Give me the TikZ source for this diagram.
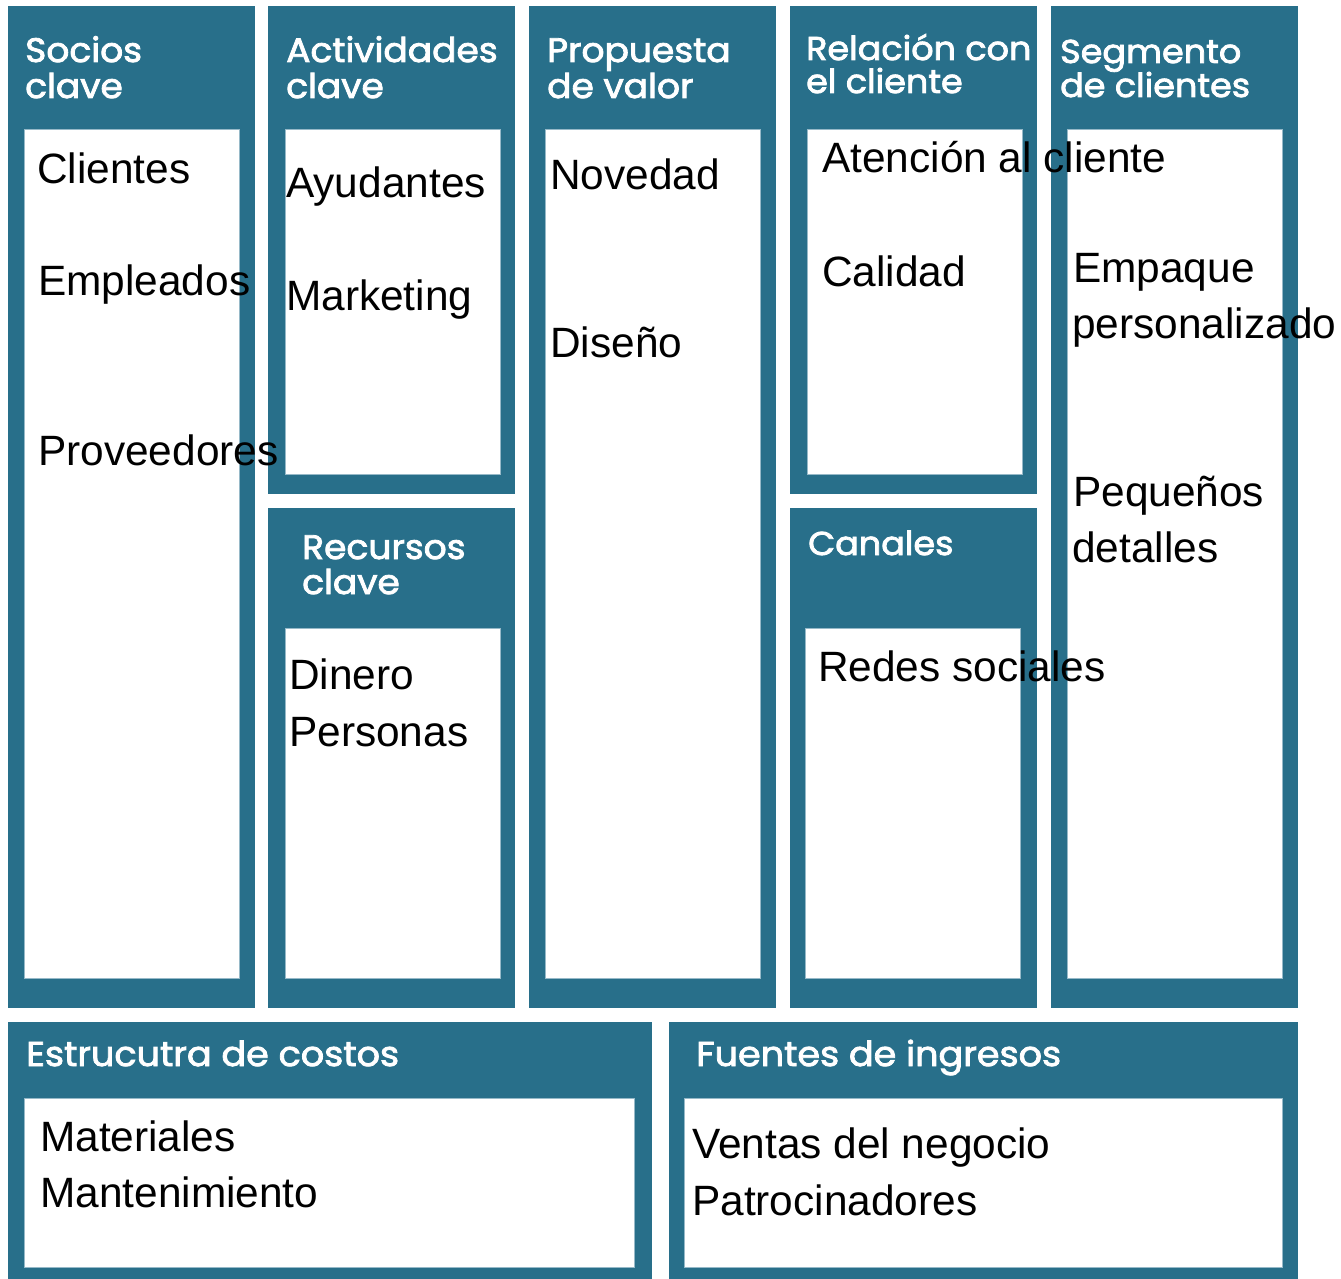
\documentclass[tikz,border=0pt]{standalone}
\usepackage{fontspec}
\setmainfont{Liberation Sans}
\newfontfamily\hfont{Poppins}[FakeBold=2.4,FakeStretch=1.06]
\definecolor{canvasteal}{RGB}{40,111,138}
\definecolor{edgeteal}{RGB}{150,185,200}
\begin{document}
\begin{tikzpicture}[x=1pt,y=-1pt,
  outerbox/.style={fill=canvasteal},
  innerbox/.style={fill=white, draw=edgeteal, line width=0.8pt},
  head/.style={anchor=base west, inner sep=0pt, text=white, font=\hfont\fontsize{34}{34}\selectfont},
  heads/.style={head, font=\hfont\fontsize{33}{33}\selectfont},
  headb/.style={head, font=\hfont\fontsize{34.5}{34.5}\selectfont},
  body/.style={anchor=base west, inner sep=0pt, text=black, font=\fontsize{42.4}{42.4}\selectfont}]
\useasboundingbox (0,0) rectangle (1341,1279);
\fill[white] (0,0) rectangle (1341,1279);
% outer boxes
\fill[outerbox] (8,6) rectangle (255,1008);
\fill[outerbox] (268,6) rectangle (515,494);
\fill[outerbox] (268,508) rectangle (515,1008);
\fill[outerbox] (529,6) rectangle (776,1008);
\fill[outerbox] (790,6) rectangle (1037,494);
\fill[outerbox] (790,508) rectangle (1037,1008);
\fill[outerbox] (1051,6) rectangle (1298,1008);
\fill[outerbox] (8,1022) rectangle (652,1279);
\fill[outerbox] (669,1022) rectangle (1298,1279);
% inner boxes
\draw[innerbox] (24,129) rectangle (239,978);
\draw[innerbox] (285,129) rectangle (500,474);
\draw[innerbox] (285,628) rectangle (500,978);
\draw[innerbox] (545,129) rectangle (760,978);
\draw[innerbox] (807,129) rectangle (1022,474);
\draw[innerbox] (805,628) rectangle (1020,978);
\draw[innerbox] (1067,129) rectangle (1282,978);
\draw[innerbox] (24,1098) rectangle (634,1267);
\draw[innerbox] (684,1098) rectangle (1282,1267);
% headers
\node[head] (h1a) at (25,62) {Socios};
\node[head] (h1b) at (25,98) {clave};
\node[head] (h2a) at (286,62) {Actividades};
\node[head] (h2b) at (286,98) {clave};
\node[head] (h3a) at (302,559) {Recursos};
\node[head] (h3b) at (302,594) {clave};
\node[head] (h4a) at (547,62) {Propuesta};
\node[head] (h4b) at (547,98) {de valor};
\node[heads] (h5a) at (806,60) {Relación con};
\node[heads] (h5b) at (806,93) {el cliente};
\node[heads] (h6) at (808,555) {Canales};
\node[heads] (h7a) at (1060,63) {Segmento};
\node[heads] (h7b) at (1060,97) {de clientes};
\node[headb] (h8) at (26,1066) {Estrucutra de costos};
\node[headb] (h9) at (696,1066) {Fuentes de ingresos};
% body texts
\node[body] (t1) at (37,183) {Clientes};
\node[body] (t2) at (38,295) {Empleados};
\node[body] (t3) at (38,465) {Proveedores};
\node[body] (t4) at (286,197) {Ayudantes};
\node[body] (t5) at (286,310) {Marketing};
\node[body] (t6) at (289,689) {Dinero};
\node[body] (t7) at (289,746) {Personas};
\node[body] (t8) at (550,189) {Novedad};
\node[body] (t9) at (550,357) {Diseño};
\node[body] (t10) at (822,172) {Atención al cliente};
\node[body] (t11) at (822,286) {Calidad};
\node[body] (t12) at (818,681) {Redes sociales};
\node[body] (t13) at (1073,282) {Empaque};
\node[body] (t14) at (1072,338) {personalizado};
\node[body] (t15) at (1073,506) {Pequeños};
\node[body] (t16) at (1072,562) {detalles};
\node[body] (t17) at (40,1151) {Materiales};
\node[body] (t18) at (40,1207) {Mantenimiento};
\node[body] (t19) at (692,1158) {Ventas del negocio};
\node[body] (t20) at (692,1215) {Patrocinadores};
\end{tikzpicture}
\end{document}
